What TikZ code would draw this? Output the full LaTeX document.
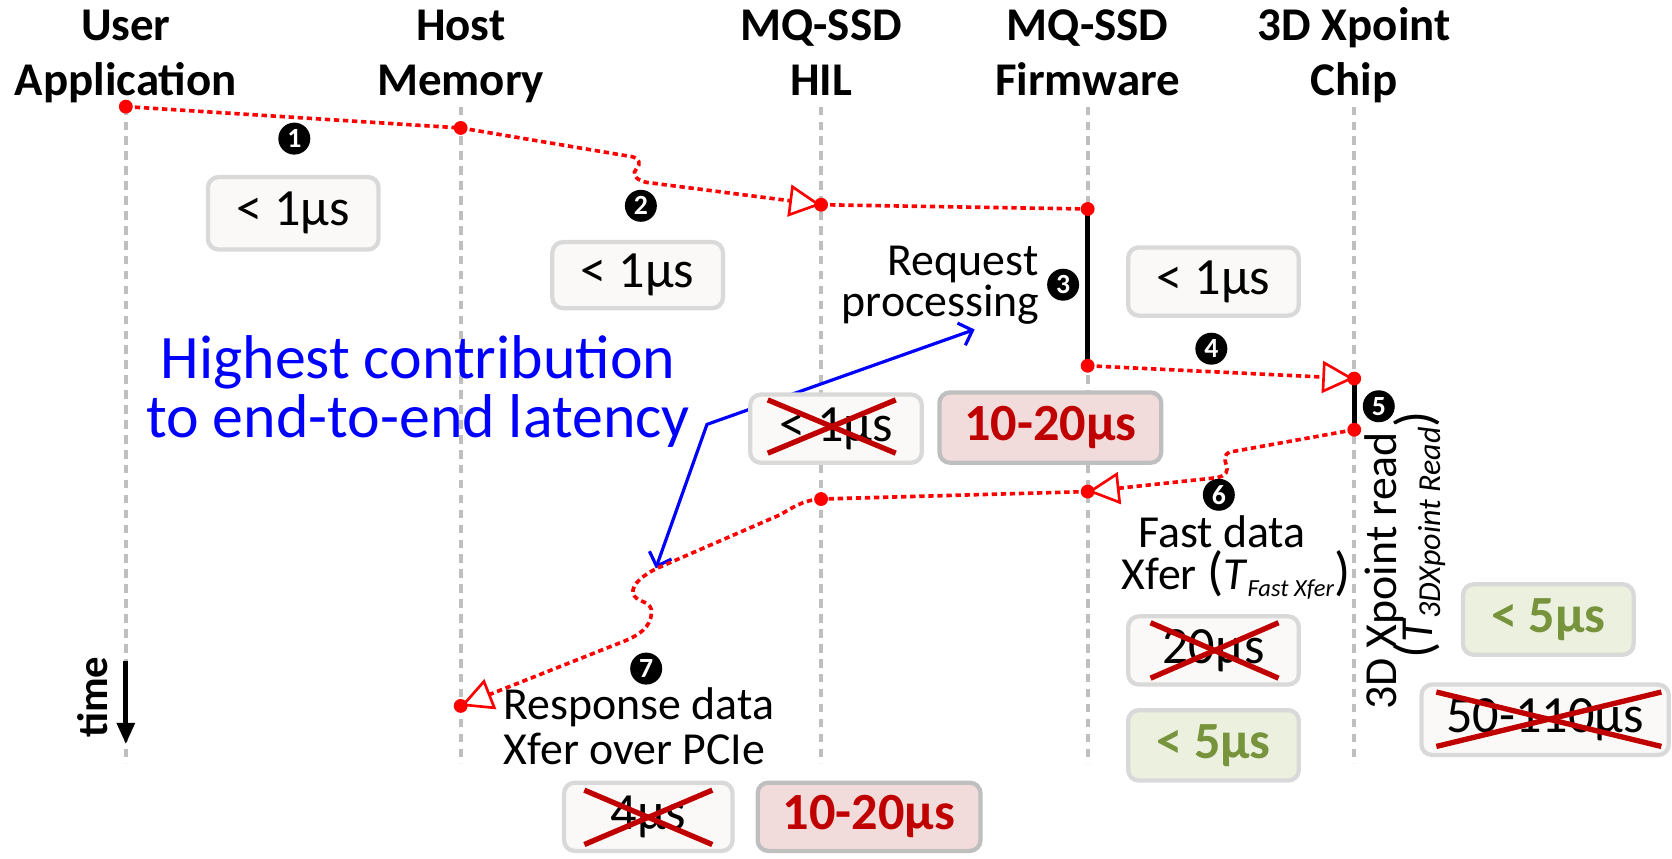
\documentclass[tikz,border=0pt]{standalone}
\usepackage{fontspec}
\setmainfont{Carlito}
\usetikzlibrary{arrows.meta}
\definecolor{lifegray}{HTML}{BFBFBF}
\definecolor{boxgray}{HTML}{D9D9D9}
\definecolor{boxfill}{HTML}{FAF9F7}
\definecolor{redfill}{HTML}{F2DCDB}
\definecolor{redborder}{HTML}{BFBFBF}
\definecolor{darkred}{HTML}{C00000}
\definecolor{greenfill}{HTML}{EBF1DE}
\definecolor{greentext}{HTML}{77933C}
\newcommand{\fsz}[1]{\fontsize{#1}{#1}\selectfont}
\begin{document}
\begin{tikzpicture}[x=1pt,y=-1pt,
  lifeline/.style={draw=lifegray, line width=4pt, dash pattern=on 8pt off 6pt},
  msg/.style={draw=red, line width=3.4pt, dash pattern=on 5pt off 3.5pt},
  msgarrow/.style={msg, -{Triangle[length=30pt,width=30pt,fill=white,line width=2.5pt]}},
  reddot/.style={circle, fill=red, inner sep=0pt, minimum size=13pt},
  bar/.style={line width=5pt, draw=black},
  num/.style={circle, fill=black, text=white, inner sep=0pt, minimum size=30pt, font=\bfseries\fsz{26}},
  head/.style={anchor=base, inner sep=0pt, font=\bfseries\fsz{44}},
  lbl/.style={inner sep=0pt, font=\fsz{43}},
  tbox/.style={rounded corners=10pt, draw=boxgray, line width=4pt, fill=boxfill, minimum height=64pt, font=\fsz{49}, inner sep=0pt},
  rbox/.style={tbox, draw=redborder, fill=redfill, text=darkred, font=\bfseries\fsz{49}},
  gbox/.style={tbox, fill=greenfill, text=greentext, font=\bfseries\fsz{49}},
  cross/.style={draw=darkred, line width=5pt},
  ]
\fill[white] (0,0) rectangle (1568,805);
\useasboundingbox (0,0) rectangle (1568,805);

% headers
\node[head] (hU1) at (118,38) {User};
\node[head] (hU2) at (118,90) {Application};
\node[head] (hH1) at (432,38) {Host};
\node[head] (hH2) at (432,90) {Memory};
\node[head] (hI1) at (770,38) {MQ-SSD};
\node[head] (hI2) at (770,90) {HIL};
\node[head] (hF1) at (1020,38) {MQ-SSD};
\node[head] (hF2) at (1020,90) {Firmware};
\node[head] (hC1) at (1270,38) {3D Xpoint};
\node[head] (hC2) at (1270,90) {Chip};

% lifelines
\coordinate (uT) at (118,100); \coordinate (uB) at (118,716);
\coordinate (hT) at (432,100); \coordinate (hB) at (432,716);
\coordinate (iT) at (770,100); \coordinate (iB) at (770,716);
\coordinate (fT) at (1020,100); \coordinate (fB) at (1020,716);
\coordinate (cT) at (1270,100); \coordinate (cB) at (1270,716);
\draw[lifeline] (uT) -- (uB);
\draw[lifeline] (hT) -- (hB);
\draw[lifeline] (iT) -- (iB);
\draw[lifeline] (fT) -- (fB);
\draw[lifeline] (cT) -- (cB);

% event points
\coordinate (A) at (118,100);
\coordinate (B) at (432,120);
\coordinate (C) at (770,192);
\coordinate (D) at (1020,196);
\coordinate (E) at (1020,343);
\coordinate (F) at (1270,355);
\coordinate (G) at (1270,403);
\coordinate (H) at (1020,461);
\coordinate (I) at (770,468);
\coordinate (J) at (432,662);

% blue annotation
\node[inner sep=0pt, text=blue, font=\fsz{58}, anchor=base] (hl1) at (392,355) {Highest contribution};
\node[inner sep=0pt, text=blue, font=\fsz{58}, anchor=base] (hl2) at (392,410) {to end-to-end latency};
\coordinate (blA) at (914,309);
\coordinate (blM) at (663,398);
\coordinate (blB) at (615,533);
\draw[blue, line width=3pt, {Straight Barb[length=11pt,width=22pt]}-{Straight Barb[length=11pt,width=22pt]}] (blA) -- (blM) -- (blB);

% boxes
\node[tbox, minimum width=160pt, minimum height=68pt] (b1) at (275,200) {< 1μs};
\node[tbox, minimum width=160pt, minimum height=62pt] (b2) at (598,258) {< 1μs};
\node[tbox, minimum width=160pt] (b3) at (1138,264) {< 1μs};
\node[tbox, minimum width=161pt] (b4) at (784,402) {< 1μs};
\node[rbox, minimum width=208pt, minimum height=66pt] (b5) at (985,401) {10-20μs};
\node[tbox, minimum width=160pt] (b6) at (1138,610) {20μs};
\node[gbox, minimum width=160pt, minimum height=66pt] (b7) at (1138,699) {< 5μs};
\node[gbox, minimum width=160pt, minimum height=66pt] (b8) at (1452,581) {< 5μs};
\node[tbox, minimum width=232pt, minimum height=66pt] (b9) at (1449,675) {50-110μs};
\node[tbox, minimum width=158pt] (b10) at (608,766) {4μs};
\node[rbox, minimum width=209pt] (b11) at (815,766) {10-20μs};

% crosses
\draw[cross] ([shift={(-64,-27)}]b4.center) -- ([shift={(56,23)}]b4.center);
\draw[cross] ([shift={(-64,23)}]b4.center) -- ([shift={(56,-27)}]b4.center);
\draw[cross] ([shift={(-59,-26)}]b6.center) -- ([shift={(61,26)}]b6.center);
\draw[cross] ([shift={(-59,26)}]b6.center) -- ([shift={(61,-26)}]b6.center);
\draw[cross] ([shift={(-102,-26)}]b9.center) -- ([shift={(109,25)}]b9.center);
\draw[cross] ([shift={(-102,25)}]b9.center) -- ([shift={(109,-26)}]b9.center);
\draw[cross] ([shift={(-60,-25)}]b10.center) -- ([shift={(60,26)}]b10.center);
\draw[cross] ([shift={(-60,26)}]b10.center) -- ([shift={(60,-25)}]b10.center);

% messages
\draw[msg] (A) -- (B);
\draw[msgarrow] (B) -- (593,147) .. controls (600,149) and (601,154) .. (597,158) .. controls (593,162) and (594,168) .. (606,171) -- (C);
\draw[msg] (C) -- (D);
\draw[bar] (D) -- (E);
\draw[msgarrow] (E) -- (F);
\draw[bar] (F) -- (G);
\draw[msgarrow] (G) -- (1153,424) .. controls (1148,426) and (1148,431) .. (1150,436) .. controls (1152,442) and (1150,446) .. (1141,448) -- (H);
\draw[msg] (H) -- (I);
\draw[msgarrow] (I) .. controls (752,469) and (742,477) .. (731,483) -- (616,533) .. controls (598,542) and (590,552) .. (595,559) .. controls (599,565) and (612,564) .. (611,575) .. controls (610,588) and (600,596) .. (581,603) -- (J);

% dots
\foreach \p in {A,B,C,D,E,F,G,H,I,J} \node[reddot] (dot\p) at (\p) {};

% numbers
\node[num] (n1) at (276,130) {1};
\node[num] (n2) at (601,193) {2};
\node[num] (n3) at (997,267) {3};
\node[num] (n4) at (1136,327) {4};
\node[num] (n5) at (1293,381) {5};
\node[num] (n6) at (1143,464) {6};
\node[num] (n7) at (606,627) {7};

% labels
\node[lbl, anchor=base east] (rq1) at (974,258) {Request};
\node[lbl, anchor=base east] (rq2) at (975,297) {processing};
\node[lbl, anchor=base] (fd1) at (1146,513) {Fast data};
\node[lbl, anchor=base] (fd2) at (1159,553) {Xfer {\fsz{50}(}\textit{T}\raisebox{-6pt}{\fsz{23}\textit{Fast Xfer}}{\fsz{50})}};
\node[lbl, anchor=base west] (rd1) at (472,675) {Response data};
\node[lbl, anchor=base west] (rd2) at (472,717) {Xfer over PCIe};
\node[lbl, rotate=90, anchor=base west] (xr1) at (1310,666) {3D Xpoint read};
\node[lbl, rotate=90, anchor=base west] (xr2) at (1343,618) {{\fsz{50}(}\textit{T}\raisebox{-8pt}{\fsz{30}\textit{3DXpoint Read}}{\fsz{50})}};

% time arrow
\node[inner sep=0pt, font=\bfseries\fsz{40}, rotate=90, anchor=base west] (tm) at (101,692) {time};
\coordinate (tA) at (118,620);
\coordinate (tB) at (118,698);
\draw[line width=5pt, -{Triangle[length=20pt,width=16pt]}] (tA) -- (tB);
\end{tikzpicture}
\end{document}
